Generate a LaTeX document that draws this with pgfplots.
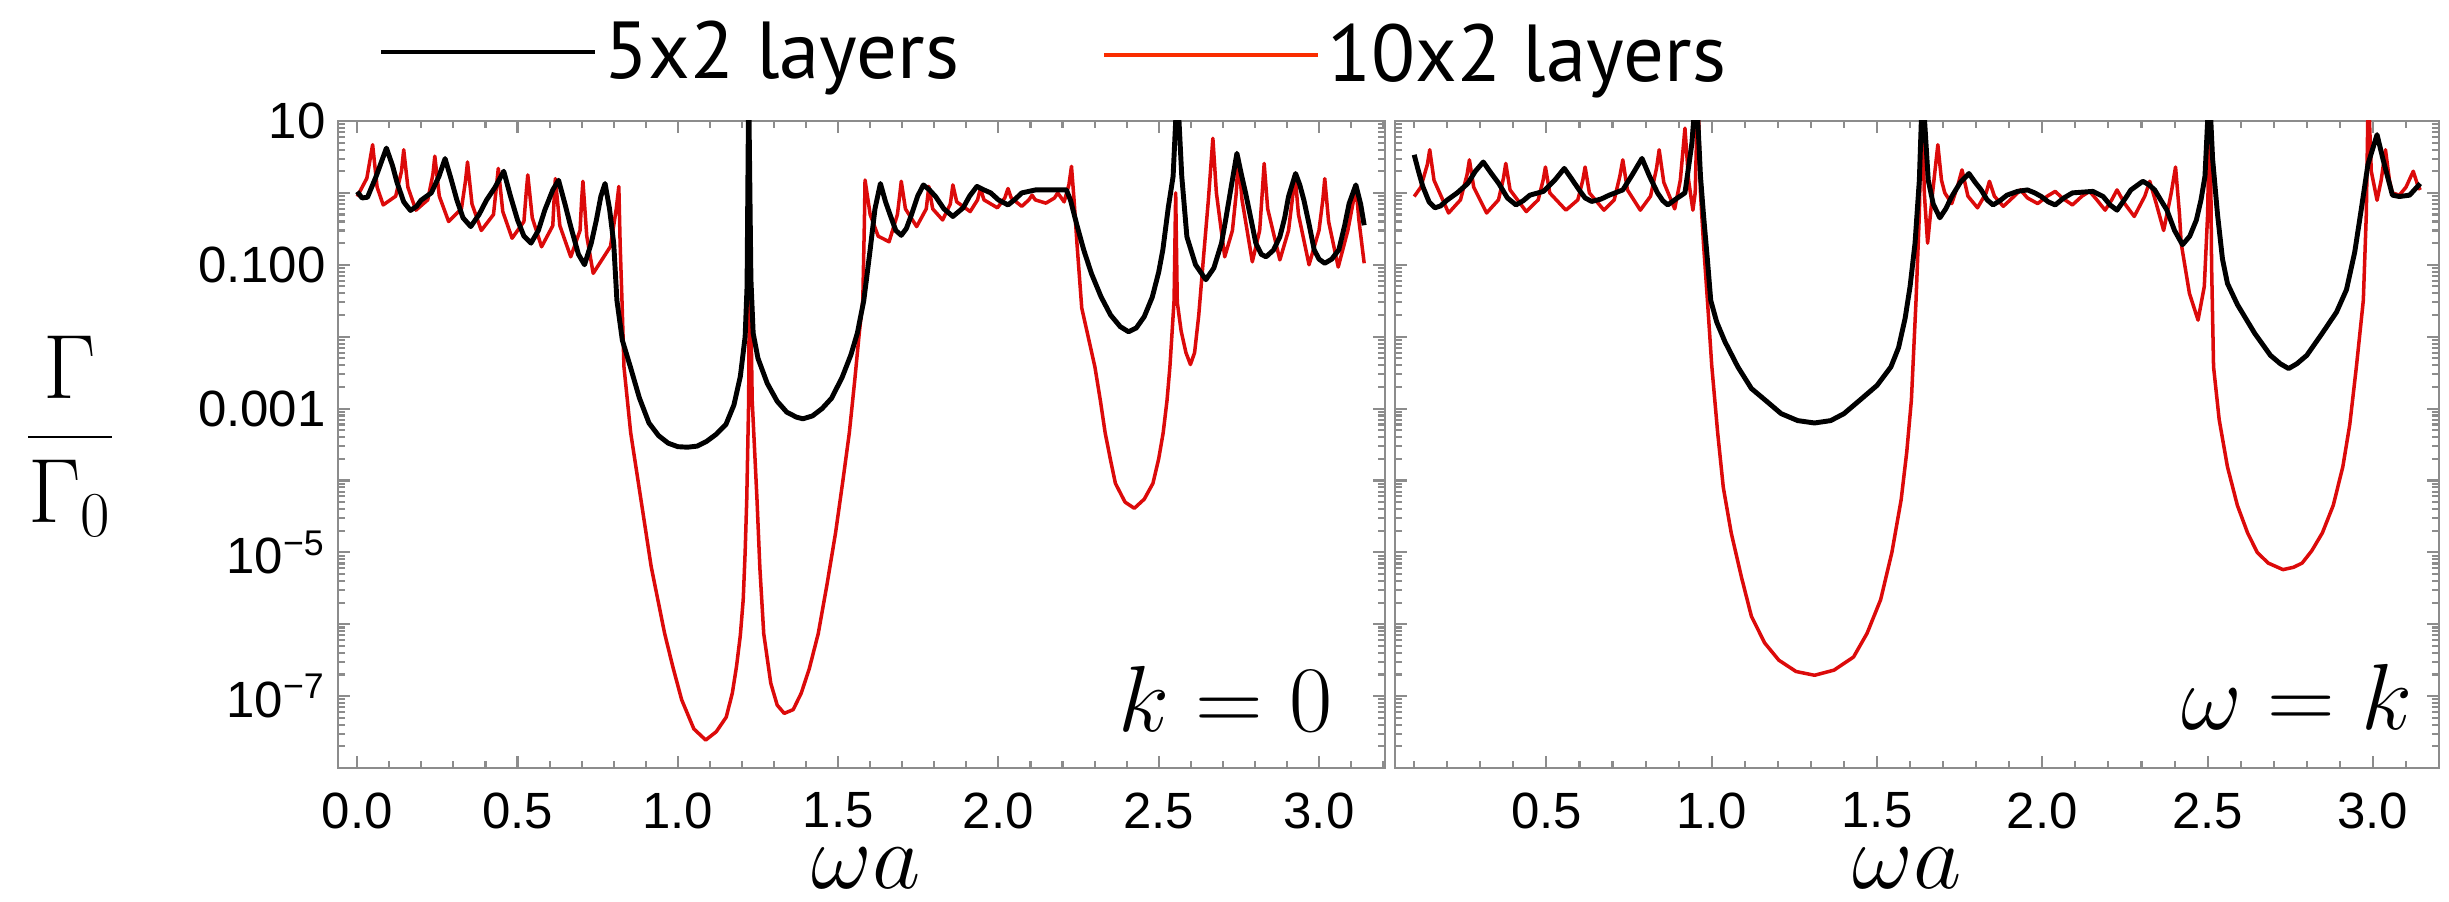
\RequirePackage{fix-cm}
\documentclass[border=0pt]{standalone}
\usepackage[no-math]{fontspec}
\usepackage{pgfplots}
\pgfplotsset{compat=1.18}
\newfontfamily\tickfont{Liberation Sans}
\newfontfamily\legfont{PT Sans}
\definecolor{curvered}{RGB}{220,10,10}
\definecolor{legred}{RGB}{250,45,0}
\definecolor{framegray}{RGB}{140,140,140}

\pgfplotsset{
  every axis/.append style={
    scale only axis, anchor=south west,
    height=6.47cm,
    axis line style={framegray, line width=0.7pt},
    tick style={framegray, line width=0.6pt},
    major tick length=3.4pt, minor tick length=2pt,
    tick label style={font=\tickfont\fontsize{14.5}{16}\selectfont, black},
    xticklabel style={inner sep=1pt, yshift=-5.8pt},
  },
  five/.style={black, line width=1.4pt, line join=round},
  ten/.style={curvered, line width=1pt, line join=round},
}

\begin{document}
\begin{tikzpicture}
\useasboundingbox (0,0) rectangle (24.49cm,9.01cm);

% k = 0
\begin{axis}[at={(3.38cm,1.33cm)}, width=10.47cm,
  ymode=log, ymin=1e-8, ymax=10,
  ytick={1e-8,1e-7,1e-6,1e-5,1e-4,1e-3,1e-2,1e-1,1,10},
  yticklabels={{},{10\textsuperscript{−7}},{},{10\textsuperscript{−5}},{},{0.001},{},{0.100},{},{10}},
  xmin=-0.06, xmax=3.206,
  xtick={0,0.5,1,1.5,2,2.5,3}, xticklabels={0.0,0.5,1.0,1.5,2.0,2.5,3.0},
  minor xtick={0,0.1,...,3.2},
  legend image code/.code={\draw[#1] (0cm,0cm) -- (2.14cm,0cm);},
  legend style={at={(axis description cs:0.039,1.1066)}, anchor=west,
    draw=none, fill=none, inner sep=0pt, outer sep=0pt,
    font=\legfont\fontsize{23}{26}\selectfont, nodes={inner sep=2pt}}]
\addlegendimage{black, line width=1.4pt}
\addlegendentry{5x2 layers}
\addplot[ten, forget plot] coordinates {
(0.000,0.89)(0.030,1.6)(0.048,4.68)(0.062,1.2)(0.081,0.68)(0.120,0.9)(0.138,2.0)(0.145,3.98)(0.158,1.2)(0.183,0.575)(0.220,0.8)(0.236,1.8)(0.242,3.24)(0.256,0.9)(0.285,0.40)(0.325,0.6)(0.338,1.5)(0.344,2.69)(0.358,0.7)(0.387,0.30)(0.425,0.5)(0.434,1.2)(0.440,2.19)(0.454,0.55)(0.483,0.234)(0.520,0.4)(0.527,1.0)(0.532,1.78)(0.546,0.45)(0.575,0.178)(0.610,0.35)(0.614,0.8)(0.618,1.58)(0.632,0.35)(0.666,0.129)(0.695,0.3)(0.700,0.8)(0.704,1.45)(0.716,0.25)(0.736,0.076)(0.790,0.18)(0.808,0.6)(0.816,1.23)(0.820,0.2)(0.826,0.03)(0.832,0.0038)(0.853,4.6e-4)(0.885,5.4e-5)(0.917,6.3e-6)(0.959,7.4e-7)(0.985,2.5e-7)(1.012,8.9e-8)(1.050,3.5e-8)(1.087,2.45e-8)(1.120,3.2e-8)(1.151,5.1e-8)(1.170,1.1e-7)(1.183,2.57e-7)(1.195,7e-7)(1.204,2.2e-6)(1.210,1e-5)(1.215,5.4e-5)(1.221,0.0013)(1.224,0.3)(1.232,0.0013)(1.247,5.4e-5)(1.256,6e-6)(1.268,7.4e-7)(1.290,1.51e-7)(1.310,7.5e-8)(1.332,5.75e-8)(1.360,6.5e-8)(1.385,1.1e-7)(1.410,2.4e-7)(1.438,7.4e-7)(1.465,3.5e-6)(1.492,1.86e-5)(1.515,1e-4)(1.535,4.6e-4)(1.552,2.5e-3)(1.566,0.0112)(1.577,0.032)(1.582,0.4)(1.584,1.51)(1.600,0.5)(1.625,0.25)(1.659,0.209)(1.685,0.5)(1.693,1.0)(1.697,1.45)(1.710,0.6)(1.745,0.34)(1.775,0.6)(1.783,1.23)(1.795,0.6)(1.826,0.42)(1.850,0.7)(1.858,1.29)(1.870,0.75)(1.912,0.55)(1.935,0.8)(1.944,1.15)(1.955,0.8)(1.997,0.62)(2.020,0.85)(2.030,1.15)(2.040,0.85)(2.073,0.65)(2.095,0.8)(2.105,0.93)(2.115,0.8)(2.148,0.72)(2.175,0.85)(2.185,1.0)(2.205,0.75)(2.220,1.3)(2.228,2.34)(2.236,0.8)(2.245,0.2)(2.260,0.025)(2.280,0.01)(2.301,0.0038)(2.318,1.3e-3)(2.333,4.6e-4)(2.350,1.9e-4)(2.365,9.1e-5)(2.395,5.0e-5)(2.424,4.1e-5)(2.455,5.5e-5)(2.482,9.1e-5)(2.500,2e-4)(2.514,4.6e-4)(2.526,1.3e-3)(2.535,0.0038)(2.548,0.032)(2.553,1.0)(2.558,0.03)(2.570,0.012)(2.585,0.006)(2.599,0.0041)(2.612,0.006)(2.625,0.02)(2.640,0.13)(2.655,0.8)(2.669,5.75)(2.680,1.0)(2.706,0.129)(2.730,0.3)(2.742,1.0)(2.748,3.16)(2.760,0.8)(2.792,0.11)(2.815,0.3)(2.823,1.0)(2.829,2.57)(2.840,0.6)(2.878,0.117)(2.905,0.3)(2.918,0.9)(2.925,1.86)(2.936,0.5)(2.969,0.1)(3.000,0.3)(3.012,0.8)(3.018,1.58)(3.030,0.4)(3.060,0.093)(3.090,0.3)(3.108,0.8)(3.115,1.23)(3.125,0.4)(3.141,0.105)
};
\addplot[five, forget plot] coordinates {
(0.000,1.04)(0.015,0.85)(0.032,0.87)(0.059,1.7)(0.091,4.2)(0.110,2.4)(0.124,1.4)(0.145,0.75)(0.166,0.57)(0.185,0.65)(0.199,0.79)(0.231,1.0)(0.255,1.7)(0.274,3.0)(0.292,1.6)(0.311,0.79)(0.330,0.45)(0.354,0.34)(0.380,0.5)(0.403,0.79)(0.430,1.2)(0.457,2.0)(0.478,0.9)(0.500,0.42)(0.520,0.25)(0.542,0.20)(0.565,0.3)(0.585,0.575)(0.610,1.1)(0.628,1.5)(0.648,0.7)(0.666,0.34)(0.690,0.14)(0.709,0.10)(0.730,0.2)(0.746,0.42)(0.760,0.9)(0.773,1.35)(0.787,0.6)(0.800,0.20)(0.810,0.032)(0.827,0.0089)(0.852,0.0038)(0.880,1.41e-3)(0.910,6.3e-4)(0.940,4.2e-4)(0.970,3.3e-4)(1.000,2.95e-4)(1.030,2.9e-4)(1.060,3.0e-4)(1.090,3.5e-4)(1.120,4.4e-4)(1.150,6.0e-4)(1.175,1.12e-3)(1.195,2.8e-3)(1.210,0.01)(1.216,0.05)(1.221,30)(1.228,0.063)(1.235,0.0112)(1.250,0.005)(1.279,0.00224)(1.310,0.00126)(1.340,8.9e-4)(1.370,7.6e-4)(1.390,7.2e-4)(1.420,7.9e-4)(1.450,0.001)(1.480,0.0014)(1.513,0.00275)(1.540,0.0056)(1.560,0.0112)(1.580,0.0316)(1.600,0.162)(1.615,0.6)(1.632,1.35)(1.648,0.75)(1.664,0.47)(1.680,0.3)(1.697,0.257)(1.713,0.32)(1.729,0.50)(1.748,0.9)(1.766,1.29)(1.785,1.1)(1.804,0.89)(1.830,0.6)(1.858,0.47)(1.890,0.62)(1.910,0.9)(1.933,1.23)(1.955,1.1)(1.976,1.0)(2.000,0.8)(2.030,0.68)(2.050,0.8)(2.073,1.0)(2.116,1.10)(2.160,1.10)(2.212,1.10)(2.225,0.79)(2.245,0.355)(2.266,0.162)(2.290,0.076)(2.320,0.036)(2.350,0.02)(2.380,0.0138)(2.406,0.0117)(2.430,0.0132)(2.455,0.019)(2.480,0.0355)(2.500,0.079)(2.513,0.162)(2.530,0.63)(2.545,1.7)(2.558,30)(2.572,1.7)(2.588,0.245)(2.615,0.1)(2.647,0.062)(2.672,0.09)(2.696,0.20)(2.710,0.45)(2.723,1.0)(2.744,3.55)(2.758,1.8)(2.771,1.0)(2.787,0.45)(2.803,0.20)(2.820,0.14)(2.835,0.129)(2.858,0.16)(2.878,0.245)(2.893,0.45)(2.905,0.89)(2.927,1.86)(2.940,1.3)(2.953,0.79)(2.970,0.35)(2.985,0.162)(3.000,0.12)(3.018,0.105)(3.040,0.12)(3.062,0.162)(3.080,0.35)(3.094,0.71)(3.115,1.29)(3.130,0.7)(3.141,0.355)
};
\end{axis}

% omega = k
\begin{axis}[at={(13.95cm,1.33cm)}, width=10.44cm,
  ymode=log, ymin=1e-8, ymax=10,
  ytick={1e-8,1e-7,1e-6,1e-5,1e-4,1e-3,1e-2,1e-1,1,10},
  yticklabels={},
  xmin=0.042, xmax=3.2,
  xtick={0.5,1,1.5,2,2.5,3}, xticklabels={0.5,1.0,1.5,2.0,2.5,3.0},
  minor xtick={0.1,0.2,...,3.2},
  legend image code/.code={\draw[#1] (0cm,0cm) -- (2.14cm,0cm);},
  legend style={at={(axis description cs:-0.281,1.102)}, anchor=west,
    draw=none, fill=none, inner sep=0pt, outer sep=0pt,
    font=\legfont\fontsize{23}{26}\selectfont, nodes={inner sep=2pt}}]
\addlegendimage{legred, line width=1.4pt}
\addlegendentry{10x2 layers}
\addplot[ten, forget plot] coordinates {
(0.100,0.89)(0.120,1.2)(0.140,2.5)(0.147,3.98)(0.160,1.5)(0.204,0.525)(0.240,0.8)(0.260,1.8)(0.267,2.88)(0.280,1.2)(0.319,0.525)(0.355,0.8)(0.370,1.6)(0.377,2.57)(0.390,1.1)(0.439,0.55)(0.475,0.8)(0.490,1.5)(0.497,2.29)(0.510,1.0)(0.559,0.575)(0.595,0.8)(0.610,1.5)(0.617,2.29)(0.630,1.0)(0.674,0.575)(0.705,0.8)(0.722,1.7)(0.731,2.88)(0.745,1.1)(0.784,0.575)(0.815,0.9)(0.833,2.2)(0.841,3.98)(0.855,1.4)(0.888,0.6)(0.905,1.5)(0.919,7.94)(0.930,1.5)(0.943,0.575)(0.950,1.0)(0.958,30)(0.966,1.0)(0.975,0.2)(0.987,0.032)(1.000,0.004)(1.018,4.6e-4)(1.035,8e-5)(1.059,1.86e-5)(1.090,4.5e-6)(1.120,1.29e-6)(1.160,5.5e-7)(1.203,3.16e-7)(1.255,2.2e-7)(1.311,1.95e-7)(1.370,2.3e-7)(1.429,3.5e-7)(1.470,7.5e-7)(1.511,2.2e-6)(1.545,1.0e-5)(1.573,5.4e-5)(1.590,2.5e-4)(1.604,0.00132)(1.618,0.032)(1.628,0.5)(1.635,30)(1.643,1.0)(1.653,0.20)(1.668,1.0)(1.684,4.68)(1.695,1.5)(1.705,1.0)(1.726,0.71)(1.745,1.3)(1.757,2.09)(1.775,0.9)(1.804,0.62)(1.830,1.0)(1.840,1.45)(1.855,0.9)(1.882,0.65)(1.915,0.9)(1.934,1.10)(1.955,0.85)(1.986,0.71)(2.015,0.9)(2.039,1.05)(2.060,0.85)(2.091,0.68)(2.120,0.9)(2.143,1.05)(2.165,0.8)(2.190,0.575)(2.210,0.8)(2.226,1.10)(2.250,0.7)(2.278,0.47)(2.310,0.9)(2.325,1.45)(2.345,0.7)(2.367,0.30)(2.390,1.0)(2.403,2.29)(2.415,0.5)(2.420,0.2)(2.445,0.04)(2.471,0.017)(2.490,0.05)(2.500,0.5)(2.507,30)(2.512,0.1)(2.518,0.0038)(2.535,7e-4)(2.560,1.55e-4)(2.590,4.5e-5)(2.621,1.86e-5)(2.650,1.0e-5)(2.683,7.1e-6)(2.728,5.75e-6)(2.760,6.2e-6)(2.786,7.1e-6)(2.815,1.05e-5)(2.847,1.86e-5)(2.880,4.5e-5)(2.909,1.55e-4)(2.930,6e-4)(2.950,0.0038)(2.971,0.032)(2.980,0.5)(2.986,30)(2.995,2.0)(3.0125,0.79)(3.025,1.5)(3.038,3.98)(3.050,1.5)(3.059,1.0)(3.080,0.93)(3.100,1.2)(3.122,2.0)(3.135,1.3)(3.143,1.10)
};
\addplot[five, forget plot] coordinates {
(0.100,3.39)(0.113,2.0)(0.126,1.23)(0.145,0.75)(0.163,0.62)(0.180,0.66)(0.199,0.79)(0.230,1.0)(0.262,1.35)(0.285,2.0)(0.309,2.69)(0.332,1.9)(0.356,1.35)(0.382,0.85)(0.408,0.68)(0.430,0.78)(0.450,0.93)(0.491,1.05)(0.525,1.5)(0.554,2.19)(0.575,1.6)(0.596,1.15)(0.617,0.85)(0.637,0.76)(0.665,0.82)(0.690,0.93)(0.731,1.10)(0.760,1.8)(0.789,3.02)(0.812,1.7)(0.836,1.0)(0.852,0.78)(0.867,0.68)(0.893,0.83)(0.919,1.0)(0.940,4.9)(0.953,30)(0.966,1.7)(0.975,0.5)(0.987,0.117)(0.997,0.032)(1.015,0.016)(1.040,0.0085)(1.079,0.0038)(1.120,0.0019)(1.161,0.00132)(1.210,8.5e-4)(1.260,6.8e-4)(1.311,6.3e-4)(1.360,6.8e-4)(1.400,8.5e-4)(1.449,0.00132)(1.500,0.0021)(1.542,0.0038)(1.565,0.007)(1.585,0.018)(1.600,0.05)(1.615,0.2)(1.628,1.5)(1.6375,30)(1.655,1.5)(1.670,0.7)(1.690,0.45)(1.708,0.6)(1.726,0.89)(1.752,1.4)(1.778,1.86)(1.797,1.4)(1.815,1.1)(1.833,0.8)(1.851,0.68)(1.872,0.78)(1.893,0.93)(1.925,1.05)(1.955,1.10)(1.977,1.0)(1.997,0.89)(2.018,0.75)(2.039,0.68)(2.065,0.85)(2.091,1.0)(2.153,1.05)(2.184,0.89)(2.205,0.68)(2.226,0.575)(2.248,0.8)(2.268,1.10)(2.304,1.45)(2.322,1.3)(2.340,1.10)(2.358,0.8)(2.377,0.575)(2.400,0.3)(2.424,0.19)(2.446,0.25)(2.466,0.42)(2.480,0.8)(2.492,1.70)(2.505,30)(2.515,3.0)(2.530,0.5)(2.545,0.12)(2.560,0.055)(2.590,0.028)(2.642,0.0112)(2.690,0.0055)(2.720,0.0042)(2.745,0.0036)(2.770,0.0042)(2.800,0.0055)(2.847,0.0112)(2.890,0.022)(2.920,0.045)(2.945,0.15)(2.965,0.6)(2.985,2.5)(3.0125,6.46)(3.030,3.0)(3.044,1.7)(3.059,0.93)(3.080,0.89)(3.111,0.93)(3.143,1.35)
};
\end{axis}

\node[anchor=base east, inner sep=0pt, font=\fontsize{26.7}{30}\selectfont] at (13.33cm,1.69cm) {$k=0$};
\node[anchor=base east, inner sep=0pt, font=\fontsize{26.7}{30}\selectfont] at (24.13cm,1.71cm) {$\omega=k$};
\node[anchor=base, inner sep=0pt, font=\fontsize{26.7}{30}\selectfont] at (8.66cm,0.13cm) {$\omega a$};
\node[anchor=base, inner sep=0pt, font=\fontsize{26.7}{30}\selectfont] at (19.07cm,0.13cm) {$\omega a$};
\node[anchor=base, inner sep=0pt, font=\fontsize{26}{30}\selectfont] at (0.70cm,4.41cm) {$\displaystyle\frac{\Gamma}{\Gamma_0}$};
\end{tikzpicture}
\end{document}
